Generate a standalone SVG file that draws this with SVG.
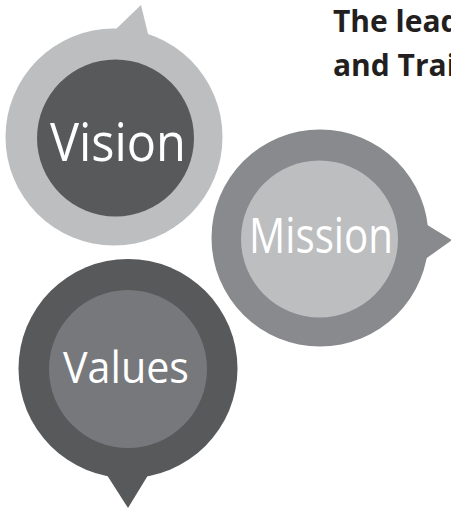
<svg xmlns="http://www.w3.org/2000/svg" width="451" height="510" viewBox="0 0 451 510">
<style>
.lbl{font-family:"Open Sans","Noto Sans","Liberation Sans",sans-serif;fill:#ffffff;text-anchor:middle}
.title{font-family:"Open Sans","Noto Sans","Liberation Sans",sans-serif;font-weight:bold;font-size:30px;fill:#231f20}
.c1{fill:#bcbec0}.c2{fill:#58595b}.c3{fill:#898a8d}.c4{fill:#77787b}
</style>
<rect width="451" height="510" fill="#ffffff"/>
<g id="title">
<text class="title" x="333" y="32">The lead</text>
<text class="title" x="333" y="76">and Trai</text>
</g>
<g id="connectors"></g>
<g id="vision">
<polygon class="c1" points="114,31 141,5 149,38"/>
<circle class="c1" cx="114" cy="137" r="108.5"/>
<circle class="c2" cx="115.5" cy="138" r="78.5"/>
<text class="lbl" x="118" y="161" font-size="53" textLength="136" lengthAdjust="spacingAndGlyphs">Vision</text>
</g>
<g id="mission">
<polygon class="c3" points="424,223 452,240 424,260"/>
<circle class="c3" cx="320" cy="238" r="108.5"/>
<circle class="c1" cx="319.5" cy="239" r="78.5"/>
<text class="lbl" x="321" y="253" font-size="49" textLength="144" lengthAdjust="spacingAndGlyphs">Mission</text>
</g>
<g id="values">
<polygon class="c2" points="105,472 128,508 150,472"/>
<circle class="c2" cx="128" cy="368.5" r="109.5"/>
<circle class="c4" cx="128" cy="369" r="79"/>
<text class="lbl" x="126" y="383" font-size="44" textLength="126" lengthAdjust="spacingAndGlyphs">Values</text>
</g>
</svg>
